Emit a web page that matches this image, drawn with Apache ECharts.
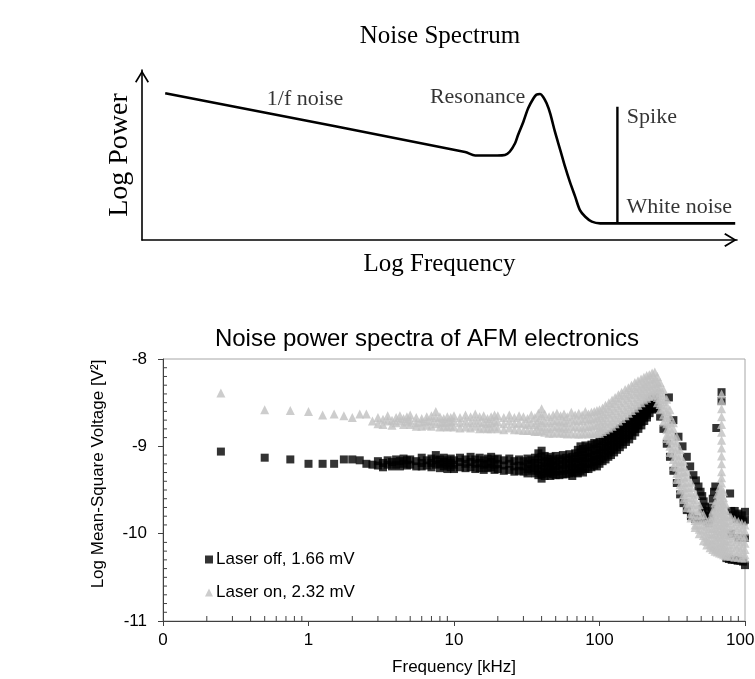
<!DOCTYPE html>
<html>
<head>
<meta charset="utf-8">
<script src="https://cdn.jsdelivr.net/npm/echarts@6/dist/echarts.min.js"></script>
<style>html,body{margin:0;padding:0;background:#fff}#c{width:755px;height:679px}</style>
</head>
<body>
<div id="c"></div>
<script>
// ---------- Bottom chart: tick labels ----------
const xTickValues = [0.1, 1, 10, 100, 1000];
const xTickLabels = ['0', '1', '10', '100', '1000'];
const yTicks = [-11, -10, -9, -8];
const minorMultipliers = [2, 3, 4, 5, 6, 7, 8, 9];
const minorDecades = [0.1, 1, 10, 100];

// ---------- Bottom chart: series [frequency kHz, log mean-square voltage] ----------
const laserOff = [
[0.25,-9.06],[0.5,-9.13],[0.75,-9.15],[1,-9.20],[1.25,-9.20],[1.5,-9.20],[1.75,-9.15],[2,-9.15],[2.25,-9.16],[2.5,-9.20],[2.75,-9.21],
[3,-9.17],[3,-9.22],[3.25,-9.19],[3.25,-9.24],[3.5,-9.16],[3.5,-9.21],[3.75,-9.18],[3.75,-9.23],
[4,-9.15],[4,-9.21],[4.25,-9.17],[4.25,-9.23],[4.5,-9.14],[4.5,-9.20],[4.75,-9.16],[4.75,-9.22],
[5,-9.15],[5,-9.21],[5.5,-9.17],[5.5,-9.23],[6,-9.13],[6,-9.19],[6,-9.23],[6.5,-9.16],[6.5,-9.22],
[7,-9.14],[7,-9.19],[7,-9.24],[7.5,-9.10],[7.5,-9.16],[7.5,-9.21],[8,-9.15],[8,-9.20],[8,-9.25],
[8.5,-9.13],[8.5,-9.18],[8.5,-9.23],[9,-9.16],[9,-9.21],[9,-9.26],[9.5,-9.14],[9.5,-9.19],[9.5,-9.24],
[10,-9.16],[10,-9.21],[10,-9.26],[11,-9.13],[11,-9.18],[11,-9.24],[12,-9.15],[12,-9.20],[12,-9.25],
[13,-9.12],[13,-9.18],[13,-9.24],[14,-9.15],[14,-9.20],[14,-9.26],[15,-9.13],[15,-9.19],[15,-9.25],
[16,-9.16],[16,-9.21],[16,-9.27],[17,-9.14],[17,-9.20],[17,-9.25],[18,-9.12],[18,-9.18],[18,-9.24],
[19,-9.15],[19,-9.21],[19,-9.27],[20,-9.14],[20,-9.20],[20,-9.26],[22,-9.16],[22,-9.22],[22,-9.28],
[24,-9.14],[24,-9.20],[24,-9.27],[26,-9.17],[26,-9.23],[26,-9.29],[28,-9.15],[28,-9.22],[28,-9.28],
[30,-9.17],[30,-9.23],[30,-9.29],[32,-9.14],[32,-9.20],[32,-9.26],[32,-9.31],[34,-9.16],[34,-9.22],[34,-9.28],
[36,-9.13],[36,-9.19],[36,-9.25],[36,-9.31],[38,-9.08],[38,-9.15],[38,-9.22],[38,-9.28],[38,-9.33],
[40,-9.05],[40,-9.12],[40,-9.19],[40,-9.26],[40,-9.32],[40,-9.37],[42,-9.11],[42,-9.17],[42,-9.23],[42,-9.29],[42,-9.34],
[44,-9.14],[44,-9.20],[44,-9.26],[44,-9.31],[46,-9.12],[46,-9.18],[46,-9.24],[46,-9.30],[46,-9.34],
[48,-9.15],[48,-9.21],[48,-9.27],[48,-9.32],[50,-9.11],[50,-9.17],[50,-9.23],[50,-9.29],[50,-9.33],
[53,-9.14],[53,-9.20],[53,-9.26],[53,-9.33],[56,-9.10],[56,-9.16],[56,-9.22],[56,-9.28],[56,-9.32],
[59,-9.13],[59,-9.19],[59,-9.25],[59,-9.32],[62,-9.09],[62,-9.15],[62,-9.21],[62,-9.27],[62,-9.31],
[65,-9.12],[65,-9.18],[65,-9.24],[65,-9.30],[65,-9.34],[68,-9.08],[68,-9.14],[68,-9.20],[68,-9.26],[68,-9.30],
[71,-9.04],[71,-9.11],[71,-9.18],[71,-9.25],[71,-9.31],[74,-9.00],[74,-9.07],[74,-9.14],[74,-9.21],[74,-9.28],
[77,-9.03],[77,-9.10],[77,-9.17],[77,-9.24],[77,-9.30],[80,-8.99],[80,-9.06],[80,-9.13],[80,-9.20],[80,-9.26],
[84,-9.01],[84,-9.08],[84,-9.14],[84,-9.20],[84,-9.26],[88,-8.98],[88,-9.05],[88,-9.12],[88,-9.18],[88,-9.24],
[92,-8.96],[92,-9.03],[92,-9.10],[92,-9.16],[92,-9.22],[96,-8.97],[96,-9.04],[96,-9.10],[96,-9.17],[96,-9.23],
[100,-8.94],[100,-9.01],[100,-9.08],[100,-9.14],[100,-9.20],
[105,-8.92],[105,-8.99],[105,-9.05],[105,-9.11],[105,-9.17],[110,-8.90],[110,-8.96],[110,-9.02],[110,-9.08],[110,-9.15],
[115,-8.88],[115,-8.94],[115,-9.00],[115,-9.06],[115,-9.12],[120,-8.86],[120,-8.92],[120,-8.98],[120,-9.04],[120,-9.10],
[126,-8.84],[126,-8.90],[126,-8.95],[126,-9.01],[126,-9.07],[132,-8.82],[132,-8.87],[132,-8.93],[132,-8.98],[132,-9.04],
[138,-8.79],[138,-8.84],[138,-8.90],[138,-8.95],[138,-9.01],[145,-8.76],[145,-8.82],[145,-8.87],[145,-8.92],[145,-8.98],
[152,-8.74],[152,-8.79],[152,-8.84],[152,-8.90],[152,-8.95],[160,-8.71],[160,-8.76],[160,-8.81],[160,-8.87],[160,-8.92],
[168,-8.68],[168,-8.73],[168,-8.78],[168,-8.83],[168,-8.88],[176,-8.65],[176,-8.70],[176,-8.75],[176,-8.80],[176,-8.84],
[185,-8.62],[185,-8.67],[185,-8.71],[185,-8.76],[185,-8.80],[194,-8.59],[194,-8.63],[194,-8.67],[194,-8.72],[194,-8.76],
[203,-8.55],[203,-8.59],[203,-8.63],[203,-8.67],[203,-8.71],[212,-8.52],[212,-8.56],[212,-8.60],[212,-8.64],[212,-8.67],
[221,-8.49],[221,-8.53],[221,-8.57],[221,-8.62],[230,-8.46],[230,-8.50],[230,-8.54],[230,-8.58],
[240,-8.44],[240,-8.49],[240,-8.53],[240,-8.57],
[250,-8.56],[261,-8.66],[275,-8.80],[290,-8.97],[305,-9.12],[322,-9.28],[340,-9.42],[358,-9.55],
[378,-9.65],[398,-9.73],[425,-9.80],[454,-9.83],[485,-9.84],
[300,-8.44],[322,-8.70],[349,-8.89],[372,-9.00],[398,-9.12],[420,-9.23],[442,-9.33],[460,-9.39],
[479,-9.46],[495,-9.52],[508,-9.57],[520,-9.63],[532,-9.69],[545,-9.74],[558,-9.79],[570,-9.84],
[510,-9.72],[530,-9.80],[550,-9.86],[565,-9.88],[580,-9.82],[590,-9.70],[600,-9.60],[612,-9.52],
[625,-9.46],[635,-8.79],[690,-8.38],[690,-8.48],
[790,-9.54],[805,-9.74],[830,-9.79],[850,-9.74],[875,-9.83],[900,-9.77],[925,-9.84],[950,-9.79],
[975,-9.86],[1000,-9.75],[1000,-9.84],[800,-10.00],[900,-10.05],[1000,-10.05],
[745,-10.28],[775,-10.29],[810,-10.30],[850,-10.30],[890,-10.31],[930,-10.31],[970,-10.32],[1000,-10.36]
];

const laserOn = [
[0.25,-8.39],[0.5,-8.58],[0.75,-8.59],[1,-8.60],[1.25,-8.64],[1.5,-8.63],[1.75,-8.65],[2,-8.67],[2.25,-8.63],[2.5,-8.63],[2.75,-8.71],
[3,-8.67],[3,-8.74],[3.25,-8.69],[3.25,-8.75],[3.5,-8.65],[3.5,-8.71],[3.75,-8.70],[3.75,-8.76],
[4,-8.67],[4,-8.73],[4.25,-8.65],[4.25,-8.71],[4.5,-8.68],[4.5,-8.75],[4.75,-8.66],[4.75,-8.72],
[5,-8.64],[5,-8.70],[5,-8.75],[5.5,-8.67],[5.5,-8.73],[5.5,-8.77],[6,-8.68],[6,-8.72],[6,-8.77],
[6.5,-8.66],[6.5,-8.71],[6.5,-8.76],[7,-8.65],[7,-8.71],[7,-8.77],[7.5,-8.60],[7.5,-8.67],[7.5,-8.74],
[8,-8.66],[8,-8.72],[8,-8.78],[8.5,-8.68],[8.5,-8.73],[8.5,-8.77],[9,-8.66],[9,-8.72],[9,-8.78],
[9.5,-8.67],[9.5,-8.72],[9.5,-8.77],[10,-8.65],[10,-8.71],[10,-8.78],[11,-8.67],[11,-8.73],[11,-8.79],
[12,-8.64],[12,-8.71],[12,-8.78],[13,-8.66],[13,-8.73],[13,-8.79],[14,-8.63],[14,-8.70],[14,-8.77],
[15,-8.66],[15,-8.73],[15,-8.80],[16,-8.65],[16,-8.72],[16,-8.79],[17,-8.68],[17,-8.74],[17,-8.80],
[18,-8.66],[18,-8.73],[18,-8.80],[19,-8.64],[19,-8.71],[19,-8.78],[20,-8.65],[20,-8.72],[20,-8.80],
[22,-8.67],[22,-8.74],[22,-8.81],[24,-8.64],[24,-8.71],[24,-8.79],[26,-8.67],[26,-8.74],[26,-8.81],
[28,-8.65],[28,-8.73],[28,-8.81],[30,-8.66],[30,-8.74],[30,-8.82],[32,-8.68],[32,-8.75],[32,-8.82],
[34,-8.64],[34,-8.73],[34,-8.82],[36,-8.67],[36,-8.75],[36,-8.83],[38,-8.62],[38,-8.70],[38,-8.77],[38,-8.83],
[40,-8.57],[40,-8.65],[40,-8.73],[40,-8.82],[42,-8.63],[42,-8.71],[42,-8.78],[42,-8.84],
[45,-8.66],[45,-8.73],[45,-8.80],[45,-8.85],[48,-8.64],[48,-8.71],[48,-8.78],[48,-8.85],
[51,-8.62],[51,-8.70],[51,-8.77],[51,-8.84],[54,-8.65],[54,-8.72],[54,-8.79],[54,-8.85],
[57,-8.63],[57,-8.71],[57,-8.78],[57,-8.85],[60,-8.66],[60,-8.73],[60,-8.80],[60,-8.86],
[64,-8.61],[64,-8.69],[64,-8.77],[64,-8.85],[68,-8.64],[68,-8.71],[68,-8.78],[68,-8.86],
[72,-8.62],[72,-8.70],[72,-8.78],[72,-8.86],[76,-8.64],[76,-8.71],[76,-8.79],[76,-8.86],
[80,-8.60],[80,-8.68],[80,-8.77],[80,-8.85],[84,-8.63],[84,-8.70],[84,-8.78],[84,-8.86],
[88,-8.61],[88,-8.69],[88,-8.77],[88,-8.85],[92,-8.60],[92,-8.68],[92,-8.76],[92,-8.85],
[96,-8.59],[96,-8.67],[96,-8.76],[96,-8.85],
[100,-8.58],[100,-8.65],[100,-8.72],[100,-8.79],[100,-8.85],[105,-8.56],[105,-8.63],[105,-8.70],[105,-8.77],[105,-8.83],
[110,-8.53],[110,-8.60],[110,-8.67],[110,-8.74],[110,-8.81],[116,-8.50],[116,-8.57],[116,-8.64],[116,-8.72],[116,-8.79],
[122,-8.47],[122,-8.54],[122,-8.62],[122,-8.70],[122,-8.77],[128,-8.44],[128,-8.51],[128,-8.59],[128,-8.67],[128,-8.74],
[135,-8.41],[135,-8.48],[135,-8.56],[135,-8.64],[135,-8.71],[142,-8.38],[142,-8.45],[142,-8.53],[142,-8.61],[142,-8.68],
[150,-8.35],[150,-8.42],[150,-8.50],[150,-8.58],[150,-8.65],[158,-8.33],[158,-8.40],[158,-8.47],[158,-8.55],[158,-8.62],
[166,-8.30],[166,-8.37],[166,-8.44],[166,-8.52],[166,-8.59],[175,-8.27],[175,-8.34],[175,-8.41],[175,-8.49],[175,-8.56],
[184,-8.25],[184,-8.32],[184,-8.39],[184,-8.46],[184,-8.53],[193,-8.23],[193,-8.30],[193,-8.37],[193,-8.43],[193,-8.50],
[202,-8.21],[202,-8.28],[202,-8.34],[202,-8.41],[202,-8.47],[211,-8.19],[211,-8.26],[211,-8.32],[211,-8.39],[211,-8.45],
[220,-8.18],[220,-8.24],[220,-8.31],[220,-8.37],[220,-8.43],[230,-8.16],[230,-8.23],[230,-8.29],[230,-8.36],[230,-8.42],
[240,-8.15],[240,-8.22],[240,-8.28],[240,-8.35],[240,-8.41],
[250,-8.20],[250,-8.26],[250,-8.32],[250,-8.38],[250,-8.44],[250,-8.50],
[261,-8.27],[261,-8.33],[261,-8.39],[261,-8.46],[261,-8.52],[261,-8.58],
[275,-8.35],[275,-8.42],[275,-8.49],[275,-8.56],[275,-8.64],[275,-8.72],
[290,-8.46],[290,-8.53],[290,-8.60],[290,-8.67],[290,-8.74],[290,-8.81],[290,-8.87],[290,-8.91],
[305,-8.58],[305,-8.65],[305,-8.72],[305,-8.79],[305,-8.86],[305,-8.93],[305,-9.00],[305,-9.07],
[322,-8.73],[322,-8.80],[322,-8.87],[322,-8.94],[322,-9.01],[322,-9.08],[322,-9.15],[322,-9.23],
[340,-8.89],[340,-8.96],[340,-9.03],[340,-9.10],[340,-9.17],[340,-9.24],[340,-9.31],[340,-9.38],
[358,-9.04],[358,-9.11],[358,-9.18],[358,-9.24],[358,-9.30],[358,-9.37],[358,-9.44],[358,-9.50],
[378,-9.17],[378,-9.23],[378,-9.29],[378,-9.35],[378,-9.42],[378,-9.48],[378,-9.55],[378,-9.61],
[398,-9.29],[398,-9.35],[398,-9.41],[398,-9.47],[398,-9.53],[398,-9.59],[398,-9.65],[398,-9.70],
[425,-9.41],[425,-9.47],[425,-9.53],[425,-9.59],[425,-9.65],[425,-9.71],[425,-9.77],[425,-9.82],
[454,-9.55],[454,-9.61],[454,-9.67],[454,-9.73],[454,-9.79],[454,-9.85],[454,-9.90],[454,-9.93],
[485,-9.67],[485,-9.73],[485,-9.79],[485,-9.85],[485,-9.90],[485,-9.95],[485,-10.00],
[518,-9.78],[518,-9.84],[518,-9.90],[518,-9.96],[518,-10.02],[518,-10.08],
[546,-9.86],[546,-9.92],[546,-9.98],[546,-10.04],[546,-10.09],[546,-10.13],
[575,-9.82],[575,-9.88],[575,-9.94],[575,-10.00],[575,-10.06],[575,-10.12],[575,-10.16],
[600,-9.74],[600,-9.80],[600,-9.87],[600,-9.94],[600,-10.01],[600,-10.08],[600,-10.14],[600,-10.18],
[622,-9.65],[622,-9.72],[622,-9.79],[622,-9.86],[622,-9.93],[622,-10.00],[622,-10.07],[622,-10.14],[622,-10.20],
[645,-9.55],[645,-9.62],[645,-9.69],[645,-9.76],[645,-9.83],[645,-9.90],[645,-9.97],[645,-10.04],[645,-10.11],[645,-10.17],[645,-10.21],
[668,-9.47],[668,-9.54],[668,-9.61],[668,-9.68],[668,-9.75],[668,-9.82],[668,-9.89],[668,-9.96],[668,-10.03],[668,-10.10],[668,-10.16],[668,-10.22],
[690,-8.40],[690,-8.48],[690,-8.57],[690,-8.66],[690,-8.75],[690,-8.84],[690,-8.93],[690,-9.02],[690,-9.11],
[690,-9.20],[690,-9.29],[690,-9.36],[690,-9.42],[690,-9.49],[690,-9.56],[690,-9.63],[690,-9.70],[690,-9.77],
[690,-9.84],[690,-9.91],[690,-9.98],[690,-10.05],[690,-10.12],[690,-10.18],[690,-10.23],
[712,-9.52],[712,-9.59],[712,-9.66],[712,-9.73],[712,-9.80],[712,-9.87],[712,-9.94],[712,-10.01],[712,-10.08],[712,-10.15],[712,-10.20],[712,-10.24],
[735,-9.66],[735,-9.73],[735,-9.80],[735,-9.87],[735,-9.94],[735,-10.01],[735,-10.08],[735,-10.14],[735,-10.20],[735,-10.25],
[760,-9.78],[760,-9.85],[760,-9.92],[760,-9.99],[760,-10.06],[760,-10.13],[760,-10.20],[760,-10.26],
[800,-9.81],[800,-9.88],[800,-9.95],[800,-10.02],[800,-10.09],[800,-10.16],[800,-10.22],[800,-10.26],
[850,-9.84],[850,-9.91],[850,-9.98],[850,-10.05],[850,-10.12],[850,-10.19],[850,-10.27],
[900,-9.86],[900,-9.93],[900,-10.00],[900,-10.07],[900,-10.14],[900,-10.21],[900,-10.27],
[950,-9.88],[950,-9.95],[950,-10.02],[950,-10.09],[950,-10.16],[950,-10.22],[950,-10.28],
[1000,-9.90],[1000,-9.97],[1000,-10.04],[1000,-10.11],[1000,-10.18],[1000,-10.24],[1000,-10.28]
];

// ---------- Top schematic (abstract units 0..100 on both axes) ----------
const schematicCurve = [
[3.9,86.3],[54.3,51.8],[56.0,49.7],[59.7,49.7],[61.0,50.0],[61.8,51.9],[62.7,56.9],[63.2,61.8],
[64.1,69.6],[64.9,77.5],[65.8,83.4],[66.3,85.5],[66.9,85.9],[67.4,84.3],[68.0,80.4],[68.6,74.5],
[69.4,63.7],[70.3,52.9],[71.1,43.1],[71.9,34.3],[72.8,25.5],[73.6,17.6],[74.5,13.7],[75.6,10.8],
[77.0,9.8],[99.7,9.8]
];
const schematicSpike = [[79.9,9.8],[79.9,78.4]];
const schematicLabelText = ['1/f noise', 'Resonance', 'Spike', 'White noise'];
const schematicLabelPos = [[27.4,83.0],[56.4,84.2],[85.7,72.0],[90.3,19.1]];

// ---------- styling ----------
const fontSans = '"Liberation Sans", Arial, sans-serif';
const fontSerif = '"Liberation Serif", "Times New Roman", serif';
const axisColor = '#404040';
const arrowPath = 'path://M0,11.5 L7,0 L14,11.5 L12.6,12.6 L7,3.2 L1.4,12.6 Z';

const xMinorTicks = [];
minorDecades.forEach(d => minorMultipliers.forEach(m => xMinorTicks.push([d * m, yTicks[0]])));
const yMinorTicks = [];
yTicks.slice(0, -1).forEach(t => { for (let k = 1; k < 10; k++) yMinorTicks.push([xTickValues[0], Math.round((t + k / 10) * 10) / 10]); });

const chart = echarts.init(document.getElementById('c'), null, {renderer: 'canvas'});
chart.setOption({
  animation: false,
  backgroundColor: '#ffffff',
  title: [
    {text: 'Noise Spectrum', left: 440, top: 24, textAlign: 'center', padding: 0,
     textStyle: {fontFamily: fontSerif, fontSize: 25, fontWeight: 'normal', color: '#000'}},
    {text: 'Noise power spectra of AFM electronics', left: 427, top: 327, textAlign: 'center', padding: 0,
     textStyle: {fontFamily: fontSans, fontSize: 24, fontWeight: 'normal', color: '#000'}}
  ],
  legend: {
    orient: 'vertical', left: 205, top: 551, padding: 0, itemWidth: 8, itemHeight: 8, itemGap: 16,
    selectedMode: false,
    data: [{name: 'Laser off, 1.66 mV', icon: 'rect'}, {name: 'Laser on, 2.32 mV', icon: 'triangle'}],
    textStyle: {fontFamily: fontSans, fontSize: 17, color: '#000', padding: [0, 0, 0, -2]}
  },
  grid: [
    {left: 163, top: 359, width: 582, height: 262, outerBoundsMode: 'none', containLabel: false,
     show: true, borderColor: '#a6a6a6', borderWidth: 1, backgroundColor: 'transparent'},
    {left: 142, top: 70, width: 595, height: 170, outerBoundsMode: 'none', containLabel: false, show: false}
  ],
  xAxis: [
    {gridIndex: 0, type: 'log', logBase: 10, min: xTickValues[0], max: xTickValues[xTickValues.length - 1],
     axisLine: {show: true, onZero: false, lineStyle: {color: axisColor, width: 1}},
     axisTick: {show: true, inside: false, length: 5, lineStyle: {color: axisColor}},
     minorTick: {show: false},
     splitLine: {show: false},
     axisLabel: {show: true, margin: 11, fontFamily: fontSans, fontSize: 17, color: '#000',
       showMinLabel: true, showMaxLabel: true, hideOverlap: false,
       formatter: v => { const i = xTickValues.findIndex(t => Math.abs(t - v) / t < 1e-6); return i >= 0 ? xTickLabels[i] : ''; }},
     name: 'Frequency [kHz]', nameLocation: 'middle', nameGap: 38,
     nameTextStyle: {fontFamily: fontSans, fontSize: 17, color: '#000'}},
    {gridIndex: 1, type: 'value', min: 0, max: 100,
     axisLine: {show: true, onZero: false, lineStyle: {color: '#000', width: 1.6},
       symbol: ['none', arrowPath], symbolSize: [14, 13], symbolOffset: [0, -6.5]},
     axisTick: {show: false}, axisLabel: {show: false}, splitLine: {show: false},
     name: 'Log Frequency', nameLocation: 'middle', nameGap: 12,
     nameTextStyle: {fontFamily: fontSerif, fontSize: 25, color: '#000'}}
  ],
  yAxis: [
    {gridIndex: 0, type: 'value', min: yTicks[0], max: yTicks[yTicks.length - 1], interval: 1,
     axisLine: {show: true, onZero: false, lineStyle: {color: axisColor, width: 1}},
     axisTick: {show: true, inside: false, length: 5, lineStyle: {color: axisColor}},
     splitLine: {show: false},
     axisLabel: {show: true, margin: 16, fontFamily: fontSans, fontSize: 17, color: '#000'}},
    {gridIndex: 1, type: 'value', min: 0, max: 100,
     axisLine: {show: true, onZero: false, lineStyle: {color: '#000', width: 1.6},
       symbol: ['none', arrowPath], symbolSize: [14, 13], symbolOffset: [0, -6.5]},
     axisTick: {show: false}, axisLabel: {show: false}, splitLine: {show: false},
     name: 'Log Power', nameLocation: 'middle', nameGap: 8, nameRotate: 90,
     nameTextStyle: {fontFamily: fontSerif, fontSize: 28, color: '#000'}}
  ],
  graphic: [
    {type: 'text', x: 98, y: 474, rotation: Math.PI / 2, silent: true,
     style: {text: 'Log Mean-Square Voltage [V²]', fill: '#000', font: '17px ' + fontSans, align: 'center', verticalAlign: 'middle'}}
  ],
  series: [
    {name: 'Laser off, 1.66 mV', type: 'scatter', xAxisIndex: 0, yAxisIndex: 0, data: laserOff,
     symbol: 'rect', symbolSize: 8, itemStyle: {color: '#000000'}, z: 2, silent: true},
    {name: 'Laser on, 2.32 mV', type: 'scatter', xAxisIndex: 0, yAxisIndex: 0, data: laserOn,
     symbol: 'triangle', symbolSize: 9, itemStyle: {color: '#c0c0c0'}, z: 3, silent: true},
    {type: 'custom', xAxisIndex: 0, yAxisIndex: 0, data: xMinorTicks, silent: true, clip: false, z: 4,
     renderItem: (params, api) => {
       const p = api.coord([api.value(0), api.value(1)]);
       return {type: 'line', shape: {x1: p[0], y1: p[1], x2: p[0], y2: p[1] - 5}, style: {stroke: axisColor, lineWidth: 1}};
     }},
    {type: 'custom', xAxisIndex: 0, yAxisIndex: 0, data: yMinorTicks, silent: true, clip: false, z: 4,
     renderItem: (params, api) => {
       const p = api.coord([api.value(0), api.value(1)]);
       return {type: 'line', shape: {x1: p[0], y1: p[1], x2: p[0] + 4, y2: p[1]}, style: {stroke: axisColor, lineWidth: 1}};
     }},
    {type: 'line', xAxisIndex: 1, yAxisIndex: 1, data: schematicCurve, symbol: 'none', smooth: 0.3,
     lineStyle: {color: '#000', width: 2.6}, silent: true},
    {type: 'line', xAxisIndex: 1, yAxisIndex: 1, data: schematicSpike, symbol: 'none',
     lineStyle: {color: '#000', width: 2.4}, silent: true},
    {type: 'scatter', xAxisIndex: 1, yAxisIndex: 1, symbolSize: 1, itemStyle: {color: 'rgba(0,0,0,0)'}, silent: true,
     data: schematicLabelText.map((t, i) => ({name: t, value: schematicLabelPos[i]})),
     label: {show: true, position: 'inside', formatter: '{b}', fontFamily: fontSerif, fontSize: 22, color: '#000'}}
  ]
});
</script>
</body>
</html>
